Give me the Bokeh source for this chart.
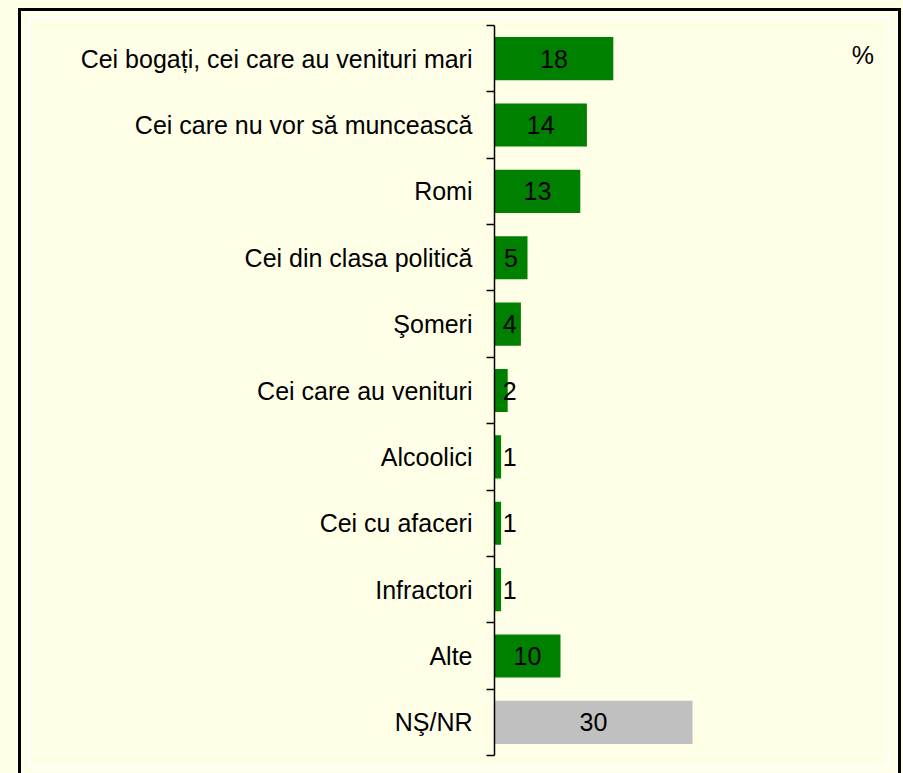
from bokeh.plotting import figure
from bokeh.models import Range1d, FixedTicker, ColumnDataSource, Label
from bokeh.embed import file_html
from bokeh.resources import INLINE
import numpy as np

categories = [
    "Cei bogați, cei care au venituri mari",
    "Cei care nu vor să muncească",
    "Romi",
    "Cei din clasa politică",
    "Şomeri",
    "Cei care au venituri",
    "Alcoolici",
    "Cei cu afaceri",
    "Infractori",
    "Alte",
    "NŞ/NR",
]
values = [18, 14, 13, 5, 4, 2, 1, 1, 1, 10, 30]
bar_colors = ["#008000"] * 10 + ["#C0C0C0"]

BG = "#FFFFE8"
FONT = "Liberation Sans"

n = len(categories)
ypos = np.arange(n) + 0.5
vals = np.array(values, dtype=float)
label_x = np.maximum(vals / 2.0, 2.3)

src = ColumnDataSource(dict(
    y=ypos, v=vals, color=bar_colors, lx=label_x,
    txt=[str(v) for v in values],
))

p = figure(width=903, height=773, output_backend="svg", toolbar_location=None,
           x_range=Range1d(0, 59.24), y_range=Range1d(n, 0),
           min_border_left=494, min_border_right=18, min_border_top=25,
           min_border_bottom=18)

p.background_fill_color = None
p.border_fill_color = None
p.outline_line_color = None
p.xgrid.visible = False
p.ygrid.visible = False
p.xaxis.visible = False

# chart-area frame drawn as CSS background lines behind the transparent canvas
frame_layers = [
    "linear-gradient(#000,#000) 18px 8px / 883px 3px no-repeat",
    "linear-gradient(#000,#000) 18px 8px / 3px 765px no-repeat",
    "linear-gradient(#000,#000) 898px 8px / 3px 765px no-repeat",
    "linear-gradient(#fff,#fff) 28px 16px / 862px 2px no-repeat",
    "linear-gradient(#fff,#fff) 28px 16px / 2px 752px no-repeat",
    "linear-gradient(#fff,#fff) 888px 16px / 2px 752px no-repeat",
    "linear-gradient(#fff,#fff) 28px 767px / 862px 2px no-repeat",
]
p.styles = {"background": ", ".join(frame_layers) + ", " + BG}

p.hbar(y="y", right="v", left=0, height=0.65, color="color", line_color=None, source=src)
p.text(x="lx", y="y", text="txt", source=src, text_align="center",
       text_baseline="middle", text_font_size="25px", text_color="black",
       text_font={"value": FONT})

ax = p.yaxis[0]
ax.ticker = FixedTicker(ticks=list(ypos), minor_ticks=list(range(n + 1)))
ax.major_label_overrides = {float(y): c for y, c in zip(ypos, categories)}
ax.axis_line_color = "black"
ax.axis_line_width = 1.5
ax.major_tick_out = 0
ax.major_tick_in = 0
ax.minor_tick_out = 8
ax.minor_tick_in = 0
ax.minor_tick_line_color = "black"
ax.minor_tick_line_width = 1.5
ax.major_label_standoff = 14
ax.major_label_text_font = FONT
ax.major_label_text_font_size = "25px"
ax.major_label_text_color = "black"

p.add_layout(Label(x=55.8, y=0.44, text="%", text_align="center",
                   text_baseline="middle", text_font_size="25px",
                   text_font=FONT, text_color="black"))

open("out.html", "w").write(file_html(p, INLINE))
